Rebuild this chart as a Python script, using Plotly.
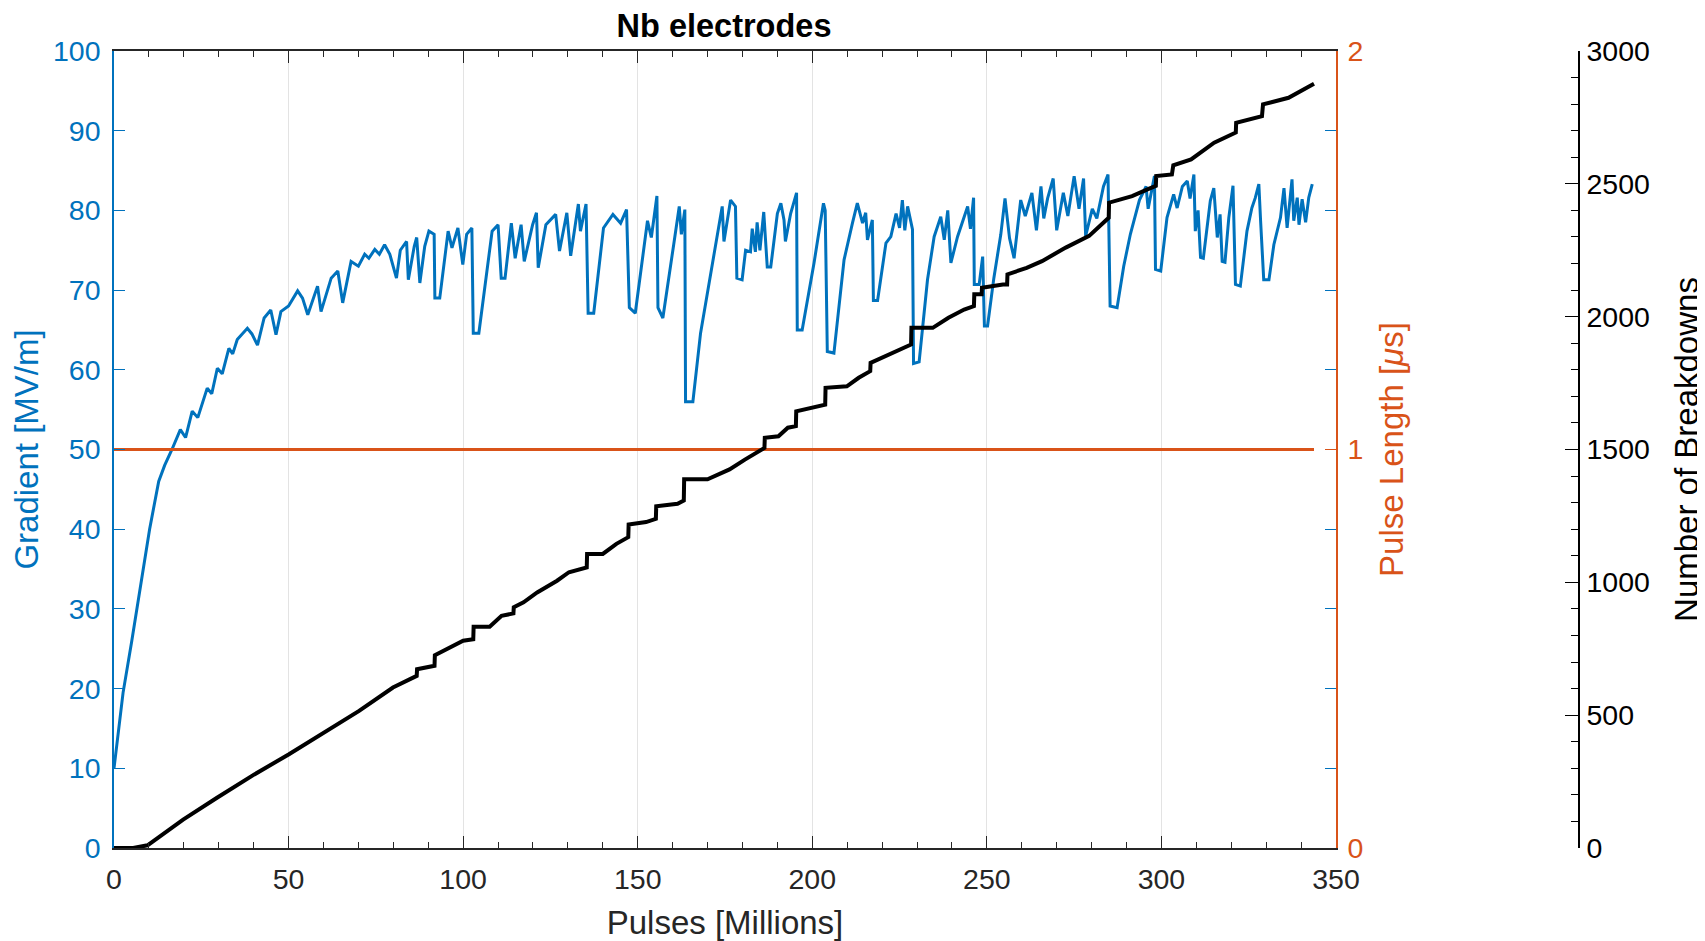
import plotly.graph_objects as go

# ---------------- data ----------------
# Gradient [MV/m] vs pulses [millions]
grad_x = [0, 2.6, 5.1, 7.7, 10.2, 12.8, 14.5, 16.6, 19, 20.5, 22.4, 24, 26.7, 28, 29.6, 31, 32.9, 34, 35.3, 38.2,
          39.5, 41.1, 43, 44.9, 46.4, 47.8, 50, 52.6, 54, 55.5, 58.3, 59.3, 62.2, 64.1, 65.5, 67.9, 70, 71.8, 73,
          74.7, 76, 77.5, 79, 80.9, 82, 83.8, 84.3, 86, 86.7, 87.6, 89, 90.2,
          91.7, 91.9, 93.3, 95.7, 96.8, 98.5, 99.9, 101, 102.5, 102.9, 104.5, 108.3, 110, 110.9, 112, 113.8, 114.9,
          116.6, 117.5, 119.9, 121, 121.5, 123.7, 126.5, 127.6, 129.7, 130.8, 133, 133.6, 135.2, 135.8, 137.4,
          140.2, 142.9, 145.1, 146.8, 147.6, 149.3, 152.8, 153.9, 155.5, 155.8, 157.2, 160.3, 161.9, 162.5, 163.5,
          163.7, 165.8,
          168, 169.9, 171.8, 172.8, 174.2, 174.7, 176.6, 178, 178.4, 179.9, 180.9, 182.3, 182.8, 183.7, 184.2, 185,
          186.1, 187.1, 188.1, 190, 191, 191.9, 192.3, 193.8, 195.5, 195.7, 197.1, 200.5, 202.4, 203.2, 203.7,
          204.3, 206.2, 209.1, 211.5, 212.9, 214.4, 215.3, 215.8, 217.2, 217.5, 218.7, 221.1, 222.5, 224, 225,
          225.8, 226.5, 227.3, 228.7, 229, 230.6, 233, 234.9, 236.8, 237.8, 238.8, 239.7, 241.6, 244.5, 245.3,
          246.2, 246.4, 247.8, 248.8, 249.3, 250.2,
          252, 254, 255.2, 256.5, 257.8, 259.7, 261, 262.9, 264.2, 265.5, 266.3, 267.4, 269, 270, 271.9, 273.2,
          275, 276.4, 277.7, 278.3, 280.2, 281.5, 283.4, 284.7, 285.3, 287.3, 289.2, 291.1, 293.7, 295.6, 296.2,
          298, 298.3, 299.8,
          301.6, 303.5, 304.5, 306, 307.4, 308.2, 309.3, 309.7, 310.5, 311.2, 312, 314, 315, 316, 316.8, 317.4,
          318.2, 319.3, 320.5, 321.2, 322.6, 324.5, 325.9, 326.9, 327.9, 328.4, 329.3, 330.8, 332.2, 334.1, 335.1,
          336, 337.4, 337.9, 338.9, 339.4, 340.3, 341.3, 342.2, 343.2]
gradient = [10, 19.5, 26, 33, 40, 46, 48, 50, 52.5, 51.5, 54.8, 54, 57.7, 57, 60.2, 59.5, 62.7, 62, 63.8, 65.2,
            64.5, 63.1, 66.5, 67.5, 64.4, 67.3, 68, 69.9, 69, 66.9, 70.5, 67.3, 71.5, 72.4, 68.4, 73.6, 73, 74.5, 74,
            75.1, 74.5, 75.7, 74.5, 71.5, 75, 76.1, 71.3, 75.5, 76.6, 70.9, 75.5, 77.4,
            77, 69, 69, 77.4, 75.3, 77.8, 73.2, 77, 77.8, 64.6, 64.6, 77.4, 78.2, 71.5, 71.5, 78.4, 74,
            78.2, 73.6, 78.2, 79.7, 72.8, 78.2, 79.5, 74.9, 79.7, 74.3, 80.8, 77.4, 80.8, 67.1, 67.1,
            77.8, 79.5, 78.4, 80.1, 67.8, 67.1, 78.7, 76.6, 81.8, 67.8, 66.5, 75.7, 80.5, 77, 80.1,
            56, 56,
            64.6, 69.6, 74.6, 77.1, 80.5, 76.1, 81.3, 80.5, 71.5, 71.3, 75, 74.8, 77.7, 74.8, 78.5, 75,
            79.8, 72.9, 72.9, 79.6, 80.9, 78.8, 76.1, 79.6, 82.2, 65, 65, 73.4, 78.8, 80.9, 80,
            62.3, 62.1, 73.8, 78.4, 80.9, 78.4, 79.7, 76.3, 78.8, 68.7, 68.7, 75.9, 76.7, 79.6, 77.8,
            81.3, 77.5, 80.5, 77.6, 60.8, 61, 71.3, 76.7, 79.2, 76.3, 80, 73.4, 76.7, 80.5, 77.7,
            81.6, 70.7, 70.7, 74.2, 65.5, 65.5,
            71.5, 77, 81.5, 76.5, 74, 81.3, 79.3, 82.2, 77.5, 83, 79, 81.5, 84, 77.5, 82.2, 79.3,
            84.3, 80.2, 84, 76.8, 80.2, 79, 83, 84.5, 68, 67.8, 73, 77, 81.3, 83, 80.2,
            84.3, 72.6, 72.4,
            79.1, 82, 80.3, 83, 83.7, 81.5, 84.5, 77.4, 80, 74.1, 74, 81.2, 82.8, 76.6, 79.5, 73.6,
            73.5, 79.1, 83.1, 70.7, 70.5, 77.4, 80.3, 81.6, 83.3, 78.7, 71.3, 71.3, 75.7, 79.1, 82.8,
            77.8, 83.9, 78.7, 81.6, 78.2, 81.4, 78.5, 81.6, 83.3]

# Pulse length [us]
pl_x = [0, 343.7]
pulse_length = [1, 1]

# Cumulative number of breakdowns
bd_x = [0, 5.5, 9.6, 19.8, 29.5, 40.2, 50, 60, 70.2, 79.9, 86.7, 86.8, 91.8, 91.9, 100, 102.9, 103.0, 107.6,
        111, 114.4, 114.5, 117.3, 121.2, 126.9, 130.3, 135.4, 135.5, 140, 143.9, 147.3, 147.4, 152.4, 155.2,
        155.3, 161.4, 163.2, 163.3, 170, 176.3, 180.7, 186.3, 186.4, 190.3, 193, 195.3, 195.4, 202, 203.7,
        203.8, 209.9, 213.3, 216.6, 216.7, 222.2, 228.3, 228.4, 234.5, 239, 243.5, 246.3, 246.4, 248.5, 248.6,
        254.6, 255.8, 255.9, 261.4, 265.8, 272.6, 279.3, 284.9, 285.0, 291.6, 296, 298.4, 298.5, 303.0, 303.4,
        308.5, 315.1, 321.3, 321.4, 328.8, 329.1, 336.4, 343.7]
breakdowns = [0, 0, 10, 107, 189, 277, 352, 434, 516, 604, 648, 673, 686, 726, 780, 786, 833, 833,
              874, 883, 906, 925, 962, 1006, 1038, 1056, 1107, 1107, 1145, 1170, 1218, 1227, 1239,
              1286, 1296, 1308, 1388, 1388, 1425, 1462, 1506, 1544, 1550, 1582, 1588, 1644, 1663, 1669,
              1732, 1738, 1770, 1795, 1826, 1858, 1895, 1958, 1958, 1996, 2027, 2040, 2084, 2084, 2109,
              2121, 2121, 2159, 2184, 2209, 2260, 2304, 2372, 2429, 2454, 2479, 2492, 2529, 2535, 2570,
              2592, 2655, 2693, 2730, 2755, 2799, 2824, 2877]

# ---------------- styles ----------------
BLUE = "#0072BD"
ORANGE = "#D95319"
DARK = "#262626"
FONT = "Liberation Sans, Arial, sans-serif"
TICK = 28.5
LAB = 33

# The page body has an 8px margin, so the figure is sized to end at the window edges.
W, H = 1697, 933

fig = go.Figure()
fig.add_trace(go.Scatter(x=grad_x, y=gradient, mode="lines", line=dict(color=BLUE, width=3),
                         yaxis="y", showlegend=False))
fig.add_trace(go.Scatter(x=pl_x, y=pulse_length, mode="lines", line=dict(color=ORANGE, width=3),
                         yaxis="y2", showlegend=False))
fig.add_trace(go.Scatter(x=bd_x, y=breakdowns, mode="lines", line=dict(color="black", width=4),
                         yaxis="y3", showlegend=False))

fig.update_layout(
    width=W, height=H,
    paper_bgcolor="white", plot_bgcolor="white",
    margin=dict(l=106, r=126, t=43, b=93),
    font=dict(family=FONT, size=TICK, color=DARK),
    title=dict(text="Nb electrodes", x=(724 - 114) / 1465, xref="paper", xanchor="center",
               y=1 - 18 / H, yref="container", yanchor="middle",
               font=dict(family=FONT, size=32.5, color="black", weight="bold")),
    xaxis=dict(domain=[0, 1222 / 1465], range=[0, 350], dtick=50, tick0=0, automargin=False,
               showline=True, linecolor=DARK, linewidth=1.5, mirror="ticks",
               ticks="inside", ticklen=12, tickwidth=1.2, tickcolor=DARK, ticklabelstandoff=5,
               minor=dict(dtick=10, ticks="inside", ticklen=6, tickcolor=DARK, showgrid=False),
               showgrid=True, gridcolor="#e3e3e3", gridwidth=1, zeroline=False,
               tickfont=dict(size=TICK, color=DARK),
               title=dict(text="Pulses [Millions]", font=dict(size=LAB, color=DARK), standoff=19)),
    yaxis=dict(range=[0, 100], dtick=10, tick0=0, showline=True, linecolor=BLUE, linewidth=1.5,
               automargin=False, ticklabelstandoff=6,
               ticks="inside", ticklen=11, tickwidth=1.2, tickcolor=BLUE, showgrid=False, zeroline=False,
               tickfont=dict(size=TICK, color=BLUE),
               title=dict(text="Gradient [MV/m]", font=dict(size=LAB, color=BLUE), standoff=9)),
    yaxis2=dict(range=[0, 2], tickvals=[0, 1, 2], overlaying="y", side="right", anchor="x",
                showline=True, linecolor=ORANGE, linewidth=1.5, automargin=False, ticklabelstandoff=4,
                ticks="inside", ticklen=11, tickwidth=1.2, tickcolor=ORANGE,
                minor=dict(dtick=0.2, ticks="inside", ticklen=11, tickcolor=BLUE, showgrid=False),
                showgrid=False, zeroline=False,
                tickfont=dict(size=TICK, color=ORANGE),
                title=dict(text="Pulse Length [<i>μ</i>s]", font=dict(size=LAB, color=ORANGE), standoff=18)),
    yaxis3=dict(range=[0, 3000], dtick=500, tick0=0, overlaying="y", side="right", anchor="free",
                position=1.0, showline=True, linecolor="black", linewidth=1.5, ticklabelstandoff=1,
                ticks="inside", ticklen=13, tickwidth=1.2, tickcolor="black",
                minor=dict(dtick=100, ticks="inside", ticklen=7, tickcolor="black", showgrid=False),
                showgrid=False, zeroline=False, automargin=False,
                tickfont=dict(size=TICK, color="black"),
                title=dict(text="Number of Breakdowns", font=dict(size=LAB, color="black"), standoff=25)),
)

fig.write_html("out.html")
